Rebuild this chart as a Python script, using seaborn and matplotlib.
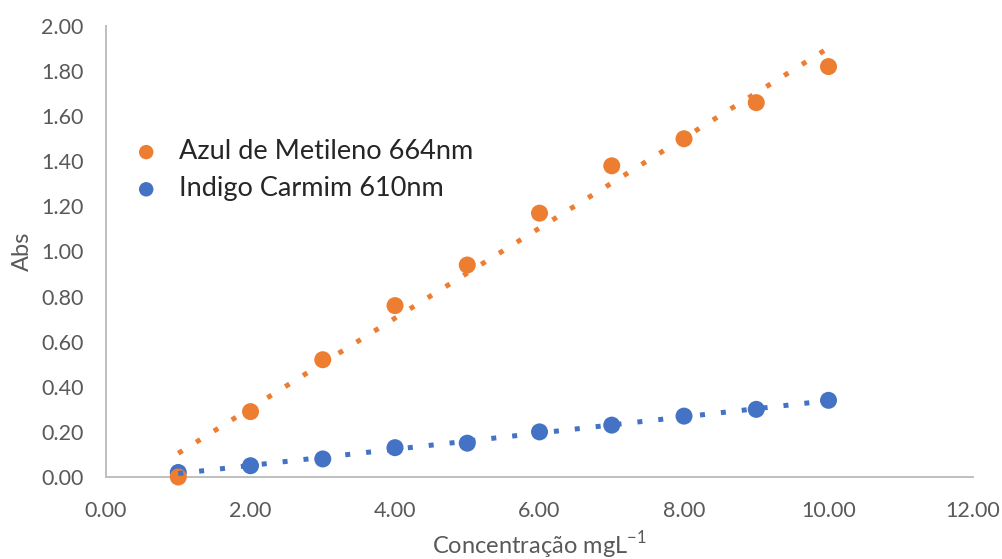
import numpy as np
import pandas as pd
import matplotlib
matplotlib.use("Agg")
import matplotlib.pyplot as plt
import seaborn as sns

sns.set_theme(style="white")
plt.rcParams['font.family'] = ['Lato', 'DejaVu Sans']
plt.rcParams['mathtext.fontset'] = 'custom'
plt.rcParams['mathtext.rm'] = 'Lato'

# dados
conc = [1, 2, 3, 4, 5, 6, 7, 8, 9, 10]
abs_azul = [0.00, 0.29, 0.52, 0.76, 0.94, 1.17, 1.38, 1.50, 1.66, 1.82]
abs_indigo = [0.02, 0.05, 0.08, 0.13, 0.15, 0.20, 0.23, 0.27, 0.30, 0.34]
series = ['Azul de Metileno 664nm', 'Indigo Carmim 610nm']
cores = {'Azul de Metileno 664nm': '#ED7D31', 'Indigo Carmim 610nm': '#4472C4'}

df = pd.concat([
    pd.DataFrame({'Conc': conc, 'Abs': abs_azul, 'Serie': series[0]}),
    pd.DataFrame({'Conc': conc, 'Abs': abs_indigo, 'Serie': series[1]}),
], ignore_index=True)

fig = plt.figure(figsize=(10.03, 5.59), dpi=100)
ax = fig.add_axes([0.1057, 0.1467, 0.8644, 0.8068])

# indigo primeiro para o laranja ficar por cima
for nome, z in [(series[1], 2), (series[0], 3)]:
    sub = df[df['Serie'] == nome]
    sns.scatterplot(data=sub, x='Conc', y='Abs', color=cores[nome], s=150,
                    edgecolor='none', linewidth=0, ax=ax, zorder=z, label=nome,
                    clip_on=False)

# linhas de tendência (linear)
for nome in series:
    sub = df[df['Serie'] == nome]
    sns.regplot(data=sub, x='Conc', y='Abs', scatter=False, ci=None, ax=ax,
                color=cores[nome],
                line_kws=dict(lw=3.6, ls=(0, (1, 3.2)), dash_capstyle='butt', zorder=4))

ax.set_xlim(0, 12)
ax.set_ylim(0, 2)
ax.set_xticks(np.arange(0, 12.1, 2))
ax.set_yticks(np.arange(0, 2.01, 0.2))
ax.xaxis.set_major_formatter(matplotlib.ticker.FormatStrFormatter('%.2f'))
ax.yaxis.set_major_formatter(matplotlib.ticker.FormatStrFormatter('%.2f'))
ax.tick_params(axis='both', length=0, labelsize=15.5, labelcolor='#595959')
ax.tick_params(axis='x', pad=17)
ax.tick_params(axis='y', pad=16)

for lado in ['top', 'right']:
    ax.spines[lado].set_visible(False)
for lado in ['left', 'bottom']:
    ax.spines[lado].set_color('#BFBFBF')
    ax.spines[lado].set_linewidth(1.4)
    ax.spines[lado].set_zorder(1)

ax.set_xlabel(r'Concentração mgL$^{\mathregular{-1}}$', fontsize=17, color='#595959', labelpad=6)
ax.set_ylabel('Abs', fontsize=17, color='#595959', labelpad=6)

h, l = ax.get_legend_handles_labels()
ordem = [l.index(n) for n in series]
ax.legend([h[i] for i in ordem], [l[i] for i in ordem], frameon=False,
          loc='center left', bbox_to_anchor=(-0.013, 0.68),
          fontsize=19.5, handletextpad=0.2, labelspacing=0.45, markerscale=0.85)

fig.savefig('out.png', dpi=100)
